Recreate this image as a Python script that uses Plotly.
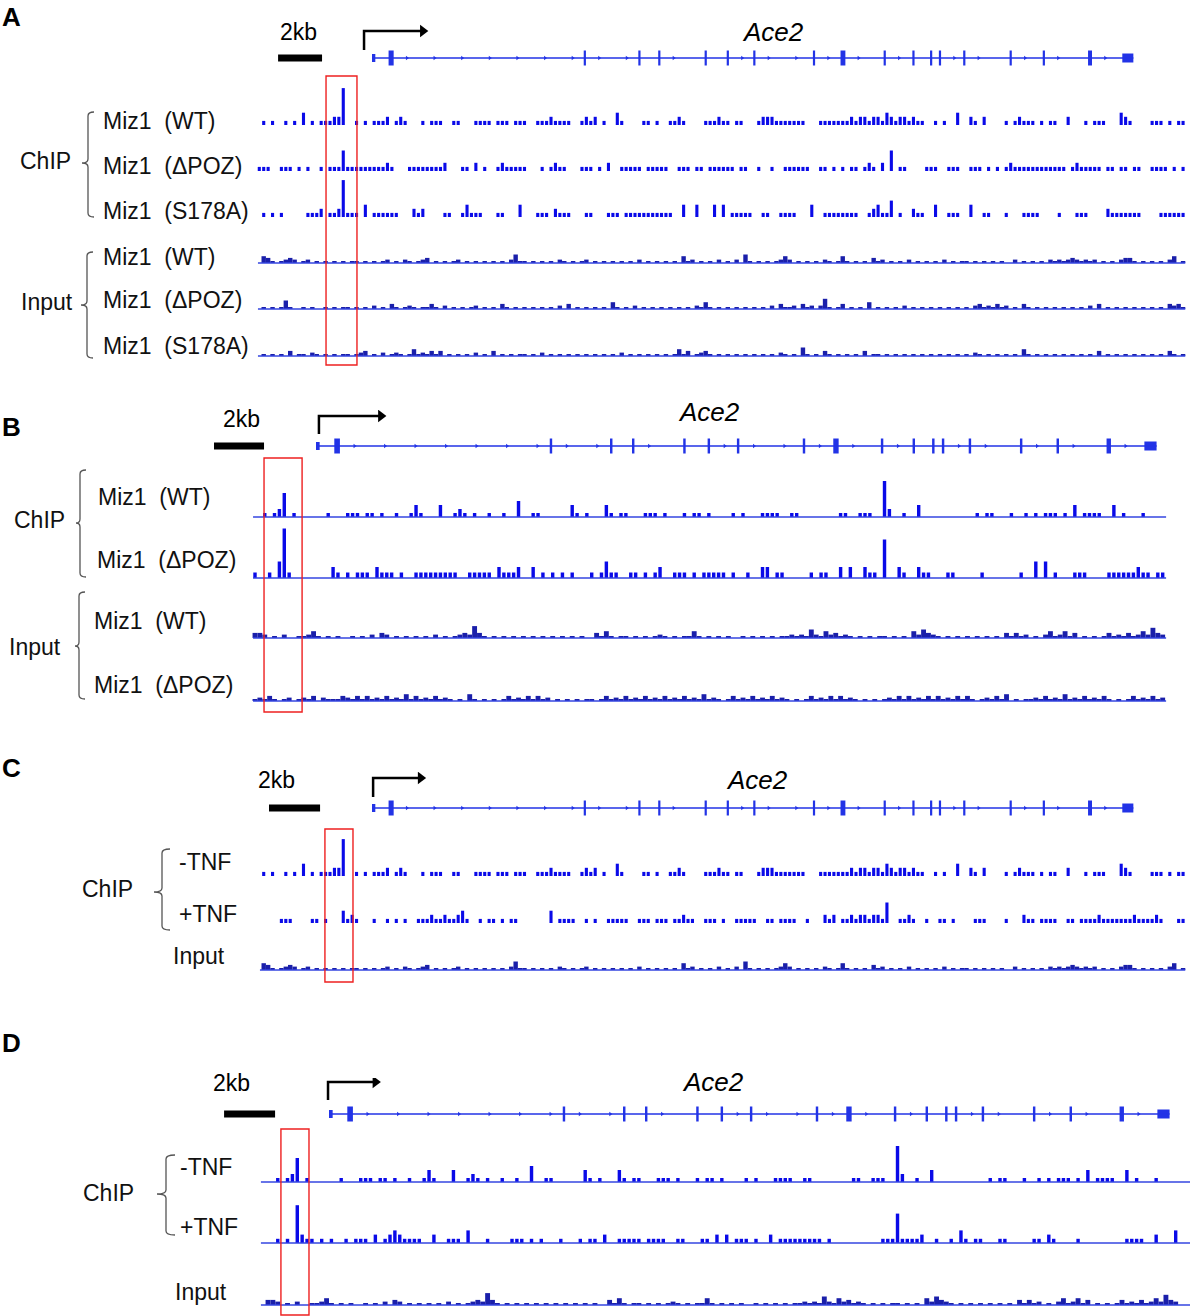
import plotly.graph_objects as go

W, H = 1190, 1316
BIN_KB = 0.2
FONT = "Liberation Sans, Arial, sans-serif"
BAR_BLUE = "#0a0ae8"
INPUT_BLUE = "#1a1faa"
LINE_BLUE = "#3446e0"
GENE_BLUE = "#2233e6"

# ---------------- data (kb relative to the Ace2 TSS) ----------------
EXON_START = [0.0, 0.75, 9.58, 12.05, 12.95, 15.05, 16.05, 17.25, 19.95, 21.2,
              23.15, 24.45, 25.25, 25.65, 26.75, 28.85, 30.35, 32.4, 33.95]
EXON_END = [0.15, 0.98, 9.68, 12.15, 13.05, 15.15, 16.15, 17.35, 20.05, 21.42,
            23.25, 24.55, 25.35, 25.75, 26.85, 28.95, 30.45, 32.58, 34.45]
EXON_KIND = ["utr", "cds", "cds", "cds", "cds", "cds", "cds", "cds", "cds", "cds",
             "cds", "cds", "cds", "cds", "cds", "cds", "cds", "cds", "utr"]

# locus shown, scale bar, highlighted promoter box and TSS arrow per panel (kb)
REGION_KB = {"A": (-5.16, 36.8), "B": (-2.58, 34.84), "C": (-5.07, 36.8), "D": (-2.79, 35.3)}
SCALE_BAR_KB = {"A": (-4.25, -2.26), "B": (-4.18, -2.13), "C": (-4.66, -2.35), "D": (-4.30, -2.21)}
BOX_KB = {"A": (-2.08, -0.68), "B": (-2.13, -0.57), "C": (-2.13, -0.86), "D": (-1.97, -0.82)}
TSS_ARROW_KB = {"A": (-0.36, 2.3), "B": (0.12, 2.66), "C": (0.05, 2.2), "D": (-0.04, 1.9)}

# coverage per 0.2 kb bin, one digit per bin (0 = no reads)
# set 1 (panels A, C) starts at -5.2 kb, set 2 (panels B, D) at -2.8 kb
SET1_START = -5.2
SET2_START = -2.8

A_WT_CHIP = ("0101001010" "3010111229" "0010101112" "0121000101" "1100110001" "1110111011"
             "1001112111" "1001212010" "0310000110" "1001121000" "0111211011" "0001222111"
             "1111000111" "1111212212" "2132122121" "1001010030" "0210200001" "0121110101"
             "1002000101" "1100032100" "0011101011")
A_DPOZ_CHIP = ("1110011101" "0100101115" "1111111112" "1000111111" "1120001102" "0100121111"
               "1000101211" "0001110102" "0011111011" "1110011101" "1011111101" "1001001001"
               "1111100110" "1010110121" "0205011000" "0111001110" "0111010101" "2111111111"
               "1110121111" "1011011011" "0011110101")
A_S178A_CHIP = ("0101010000" "0111201129" "1110301111" "1100021200" "0011001311" "1000110003"
                "0001110211" "1000110001" "1101111111" "1111003003" "0003030111" "1100110011"
                "1100030011" "1111110012" "3114010021" "1003001110" "0300110001" "0001111000"
                "0100011100" "0021111111" "0000111111")
A_WT_INPUT = ("0431012320" "1201010101" "0110101012" "0102101230" "1010120101" "0101010251"
              "1010101021" "0101201010" "1010102010" "1010104120" "1010201020" "5101010124"
              "2010101021" "0141010103" "1201010201" "0101020101" "1010101010" "0201010102"
              "1212321212" "0101023310" "1010102401")
A_DPOZ_INPUT = ("0101015100" "1010010101" "1010102010" "3101210113" "1020101012" "0101031010"
                "1010101020" "3010101010" "4101020101" "0101010102" "1410101010" "1010102031"
                "1203120261" "0130101040" "1010102010" "1010101010" "1023121312" "0103101010"
                "1010101020" "3010101010" "1010103231")
A_S178A_INPUT = ("0101010301" "1021010101" "1012301020" "1210141213" "1301010102" "0103010101"
                 "1010201010" "1010101010" "1020101010" "1010141301" "2310101010" "1010101021"
                 "0105101031" "0101010301" "1010101010" "1010101010" "1021010101" "0104101010"
                 "1010101010" "3010101010" "1010103101")
C_PTNF_CHIP = ("0000011100" "0011010003" "1210001001" "0101001112" "1121123100" "1011010110"
               "0000003011" "1100101001" "1111001110" "1110112110" "0111010011" "1110011011"
               "1100100021" "2011212212" "2150011210" "0100110100" "0011100001" "0002110111"
               "1001101111" "2111111121" "1112100011")

B_WT_CHIP = ("0001012601" "0000001000" "1110110100" "1001310003" "0012101001" "0010040011"
             "0000003101" "0003101100" "0111010001" "0110100001" "0100011110" "0110000000"
             "0110011100" "9200100300" "0000000001" "0110001001" "0101110103" "0111100301"
             "00010000000")
B_DPOZ_CHIP = ("0100103910" "0000000210" "1011102111" "0100111111" "1110011111" "0211120020"
               "1010101000" "1013110011" "0101200111" "0101111101" "0010022011" "0000010110"
               "0202002110" "7002100211" "0001100000" "1000000010" "0303010001" "1100001111"
               "11211011000")
B_WT_INPUT = ("0332010200" "1124101010" "0101020320" "1010101020" "1012327310" "1010101010"
              "1010101010" "0314101101" "0101210101" "1410101010" "0101010101" "1212152142"
              "3121010101" "1010104253" "2101010101" "0101031312" "0102412413" "0101013121"
              "31242632000")
B_DPOZ_INPUT = ("0121310120" "1213021113" "2131312131" "2141312131" "2101041010" "1013121313"
                "1201010101" "1013121312" "1312131213" "1214121013" "1213121312" "1010131213"
                "1312101010" "1213131213" "1312131310" "1213140101" "1213121412" "1312131010"
                "13121312131")
D_PTNF_CHIP = ("0001010921" "1010100101" "1102012321" "1110020011" "1030001000" "0111010100"
               "0100010110" "2001111101" "1110011000" "1102020111" "0100201111" "1111101000"
               "0000000111" "7111120010" "0103101100" "0110000011" "0210000100" "0000000111"
               "10020003000")

# ---------------- layout (pixels) ----------------
PANELS = {
    "A": dict(gene_px=372, ppk=22.1, gene_y=58, arrow_y=(8, 27), box_y=(76, 365)),
    "B": dict(gene_px=316, ppk=24.4, gene_y=446, arrow_y=(12, 30), box_y=(458, 712)),
    "C": dict(gene_px=372, ppk=22.1, gene_y=808, arrow_y=(11, 30), box_y=(829, 982)),
    "D": dict(gene_px=329, ppk=24.4, gene_y=1114, arrow_y=(14, 32), box_y=(1129, 1315)),
}

# (panel, data, bin start, baseline y px, px per unit, kind, draw baseline)
TRACKS = [
    ("A", A_WT_CHIP, SET1_START, 125, 4.1, "chip", False),
    ("A", A_DPOZ_CHIP, SET1_START, 171, 4.1, "chip", False),
    ("A", A_S178A_CHIP, SET1_START, 217, 4.1, "chip", False),
    ("A", A_WT_INPUT, SET1_START, 263, 1.7, "input", True),
    ("A", A_DPOZ_INPUT, SET1_START, 309, 1.7, "input", True),
    ("A", A_S178A_INPUT, SET1_START, 356, 1.7, "input", True),
    ("B", B_WT_CHIP, SET2_START, 517, 4.0, "chip", True),
    ("B", B_DPOZ_CHIP, SET2_START, 578, 5.5, "chip", True),
    ("B", B_WT_INPUT, SET2_START, 638, 1.7, "input", True),
    ("B", B_DPOZ_INPUT, SET2_START, 701, 1.7, "input", True),
    ("C", A_WT_CHIP, SET1_START, 876, 4.1, "chip", False),
    ("C", C_PTNF_CHIP, SET1_START, 923, 4.1, "chip", False),
    ("C", A_WT_INPUT, SET1_START, 970, 1.7, "input", True),
    ("D", B_WT_CHIP, SET2_START, 1182, 4.0, "chip", True),
    ("D", D_PTNF_CHIP, SET2_START, 1243, 4.2, "chip", True),
    ("D", B_WT_INPUT, SET2_START, 1305, 1.7, "input", True),
]

LABELS = [
    ("Miz1  (WT)", 101, 121), ("Miz1  (\u0394POZ)", 101, 166), ("Miz1  (S178A)", 101, 211),
    ("Miz1  (WT)", 101, 257), ("Miz1  (\u0394POZ)", 101, 300), ("Miz1  (S178A)", 101, 346),
    ("ChIP", 18, 161), ("Input", 19, 302),
    ("Miz1  (WT)", 96, 497), ("Miz1  (\u0394POZ)", 95, 560),
    ("Miz1  (WT)", 92, 621), ("Miz1  (\u0394POZ)", 92, 685),
    ("ChIP", 12, 520), ("Input", 7, 647),
    ("-TNF", 177, 862), ("+TNF", 177, 914), ("Input", 171, 956), ("ChIP", 80, 889),
    ("-TNF", 178, 1167), ("+TNF", 178, 1227), ("Input", 173, 1292), ("ChIP", 81, 1193),
]
LETTERS = [("A", 0, 17), ("B", 0, 427), ("C", 0, 768), ("D", 0, 1043)]
KB_TEXT = [(298, 32), (241, 419), (276, 780), (231, 1083)]
GENE_TEXT = [(773, 32), (709, 412), (757, 780), (713, 1082)]
BRACES = [  # x vertical, x serif, x tick, y top, y bottom, y mid
    (88, 94, 82, 112, 217, 163), (87, 93, 81, 252, 358, 305),
    (80, 86, 76, 470, 577, 523), (79, 85, 75, 592, 699, 646),
    (162, 170, 154, 849, 930, 892), (166, 175, 157, 1155, 1235, 1194),
]


def xp(px):
    return px / W


def yp(py):
    return 1 - py / H


fig = go.Figure()
layout = dict(width=W, height=H, margin=dict(l=0, r=0, t=0, b=0),
              paper_bgcolor="white", plot_bgcolor="rgba(0,0,0,0)",
              showlegend=False, barmode="overlay", font=dict(family=FONT))
n_y = [0]


def new_yaxis(xname, bottom_px, top_px, lo, hi):
    n_y[0] += 1
    k = n_y[0]
    layout["yaxis" if k == 1 else "yaxis%d" % k] = dict(
        domain=[yp(bottom_px), yp(top_px)], range=[lo, hi], anchor=xname,
        visible=False, fixedrange=True)
    return "y" if k == 1 else "y%d" % k


xnames = {}
for i, (p, g) in enumerate(PANELS.items()):
    xname = "x" if i == 0 else "x%d" % (i + 1)
    xnames[p] = xname
    gy = new_yaxis(xname, g["gene_y"] + 12, g["gene_y"] - 36, -12, 36)
    layout["xaxis" if i == 0 else "xaxis%d" % (i + 1)] = dict(
        domain=[0, 1], range=[-g["gene_px"] / g["ppk"], (W - g["gene_px"]) / g["ppk"]],
        anchor=gy, visible=False, fixedrange=True)

    # intron line
    fig.add_trace(go.Scatter(x=[EXON_START[0], EXON_END[-1]], y=[0, 0], mode="lines",
                             line=dict(color=GENE_BLUE, width=1.5), xaxis=xname, yaxis=gy,
                             hoverinfo="skip"))
    # strand chevrons inside introns
    cx = []
    for e, s in zip(EXON_END[:-1], EXON_START[1:]):
        c = e + 0.6
        while c < s - 0.3:
            cx.append(c)
            c += 1.25
    fig.add_trace(go.Scatter(x=cx, y=[0] * len(cx), mode="markers",
                             marker=dict(symbol="triangle-right", size=4, color=GENE_BLUE),
                             xaxis=xname, yaxis=gy, hoverinfo="skip"))
    # exons
    hgt = [8 if k == "utr" else 15 for k in EXON_KIND]
    hgt[-1] = 9
    fig.add_trace(go.Bar(x=[(a + b) / 2 for a, b in zip(EXON_START, EXON_END)],
                         y=hgt, base=[-h / 2 for h in hgt],
                         width=[max(b - a, 0.09) for a, b in zip(EXON_START, EXON_END)],
                         marker=dict(color=GENE_BLUE, line=dict(width=0)),
                         xaxis=xname, yaxis=gy, hoverinfo="skip"))
    # scale bar
    sb = SCALE_BAR_KB[p]
    fig.add_trace(go.Scatter(x=list(sb), y=[0, 0], mode="lines",
                             line=dict(color="black", width=7), xaxis=xname, yaxis=gy,
                             hoverinfo="skip"))
    # TSS arrow
    a0, a1 = TSS_ARROW_KB[p]
    lo, hi = g["arrow_y"]
    fig.add_trace(go.Scatter(x=[a0, a0, a1], y=[lo, hi, hi], mode="lines",
                             line=dict(color="black", width=2.5), xaxis=xname, yaxis=gy,
                             hoverinfo="skip"))
    fig.add_trace(go.Scatter(x=[a1], y=[hi], mode="markers",
                             marker=dict(symbol="triangle-right", size=11, color="black"),
                             xaxis=xname, yaxis=gy, hoverinfo="skip"))

shapes = []
for p, data, start, base_y, unit, kind, with_line in TRACKS:
    xname = xnames[p]
    ya = new_yaxis(xname, base_y + 3, base_y - 55, -3, 55)
    r0, r1 = REGION_KB[p]
    if with_line:
        fig.add_trace(go.Scatter(x=[r0, r1], y=[0, 0], mode="lines",
                                 line=dict(color=LINE_BLUE, width=1.6),
                                 xaxis=xname, yaxis=ya, hoverinfo="skip"))
    xs, ys = [], []
    for i, ch in enumerate(data):
        v = int(ch)
        c = start + BIN_KB * (i + 0.5)
        if v and r0 <= c <= r1:
            xs.append(c)
            ys.append(v * unit)
    fig.add_trace(go.Bar(x=xs, y=ys, width=0.14 if kind == "chip" else 0.2,
                         marker=dict(color=BAR_BLUE if kind == "chip" else INPUT_BLUE,
                                     line=dict(width=0)),
                         xaxis=xname, yaxis=ya, hoverinfo="skip"))

for p, g in PANELS.items():
    b0, b1 = BOX_KB[p]
    shapes.append(dict(type="rect", xref=xnames[p], yref="paper", x0=b0, x1=b1,
                       y0=yp(g["box_y"][1]), y1=yp(g["box_y"][0]),
                       line=dict(color="#ee2020", width=1.4), fillcolor="rgba(0,0,0,0)"))

for xv, xs_, xt, yt, yb, ym in BRACES:
    r = 4
    path = ("M {a},{b} Q {c},{b} {c},{d} L {c},{e} Q {c},{f} {g},{f} "
            "Q {c},{f} {c},{h} L {c},{i} Q {c},{j} {a},{j}").format(
        a=xp(xs_), b=yp(yt), c=xp(xv), d=yp(yt + r), e=yp(ym - r), f=yp(ym),
        g=xp(xt), h=yp(ym + r), i=yp(yb - r), j=yp(yb))
    shapes.append(dict(type="path", xref="paper", yref="paper", path=path,
                       line=dict(color="#555555", width=1.3)))

ann = []
for t, x, y in LABELS:
    ann.append(dict(text=t, x=xp(x), y=yp(y), xref="paper", yref="paper",
                    xanchor="left", yanchor="middle", showarrow=False,
                    font=dict(size=23, color="#111111", family=FONT)))
for t, x, y in LETTERS:
    ann.append(dict(text="<b>%s</b>" % t, x=xp(x), y=yp(y), xref="paper", yref="paper",
                    xanchor="left", yanchor="middle", showarrow=False,
                    font=dict(size=26, color="black", family=FONT)))
for x, y in KB_TEXT:
    ann.append(dict(text="2kb", x=xp(x), y=yp(y), xref="paper", yref="paper",
                    xanchor="center", yanchor="middle", showarrow=False,
                    font=dict(size=23, color="black", family=FONT)))
for x, y in GENE_TEXT:
    ann.append(dict(text="<i>Ace2</i>", x=xp(x), y=yp(y), xref="paper", yref="paper",
                    xanchor="center", yanchor="middle", showarrow=False,
                    font=dict(size=26, color="black", family=FONT)))

layout["shapes"] = shapes
layout["annotations"] = ann
fig.update_layout(**layout)
fig.write_html("out.html", config={"displayModeBar": False},
               post_script="document.body.style.margin='0px';")
